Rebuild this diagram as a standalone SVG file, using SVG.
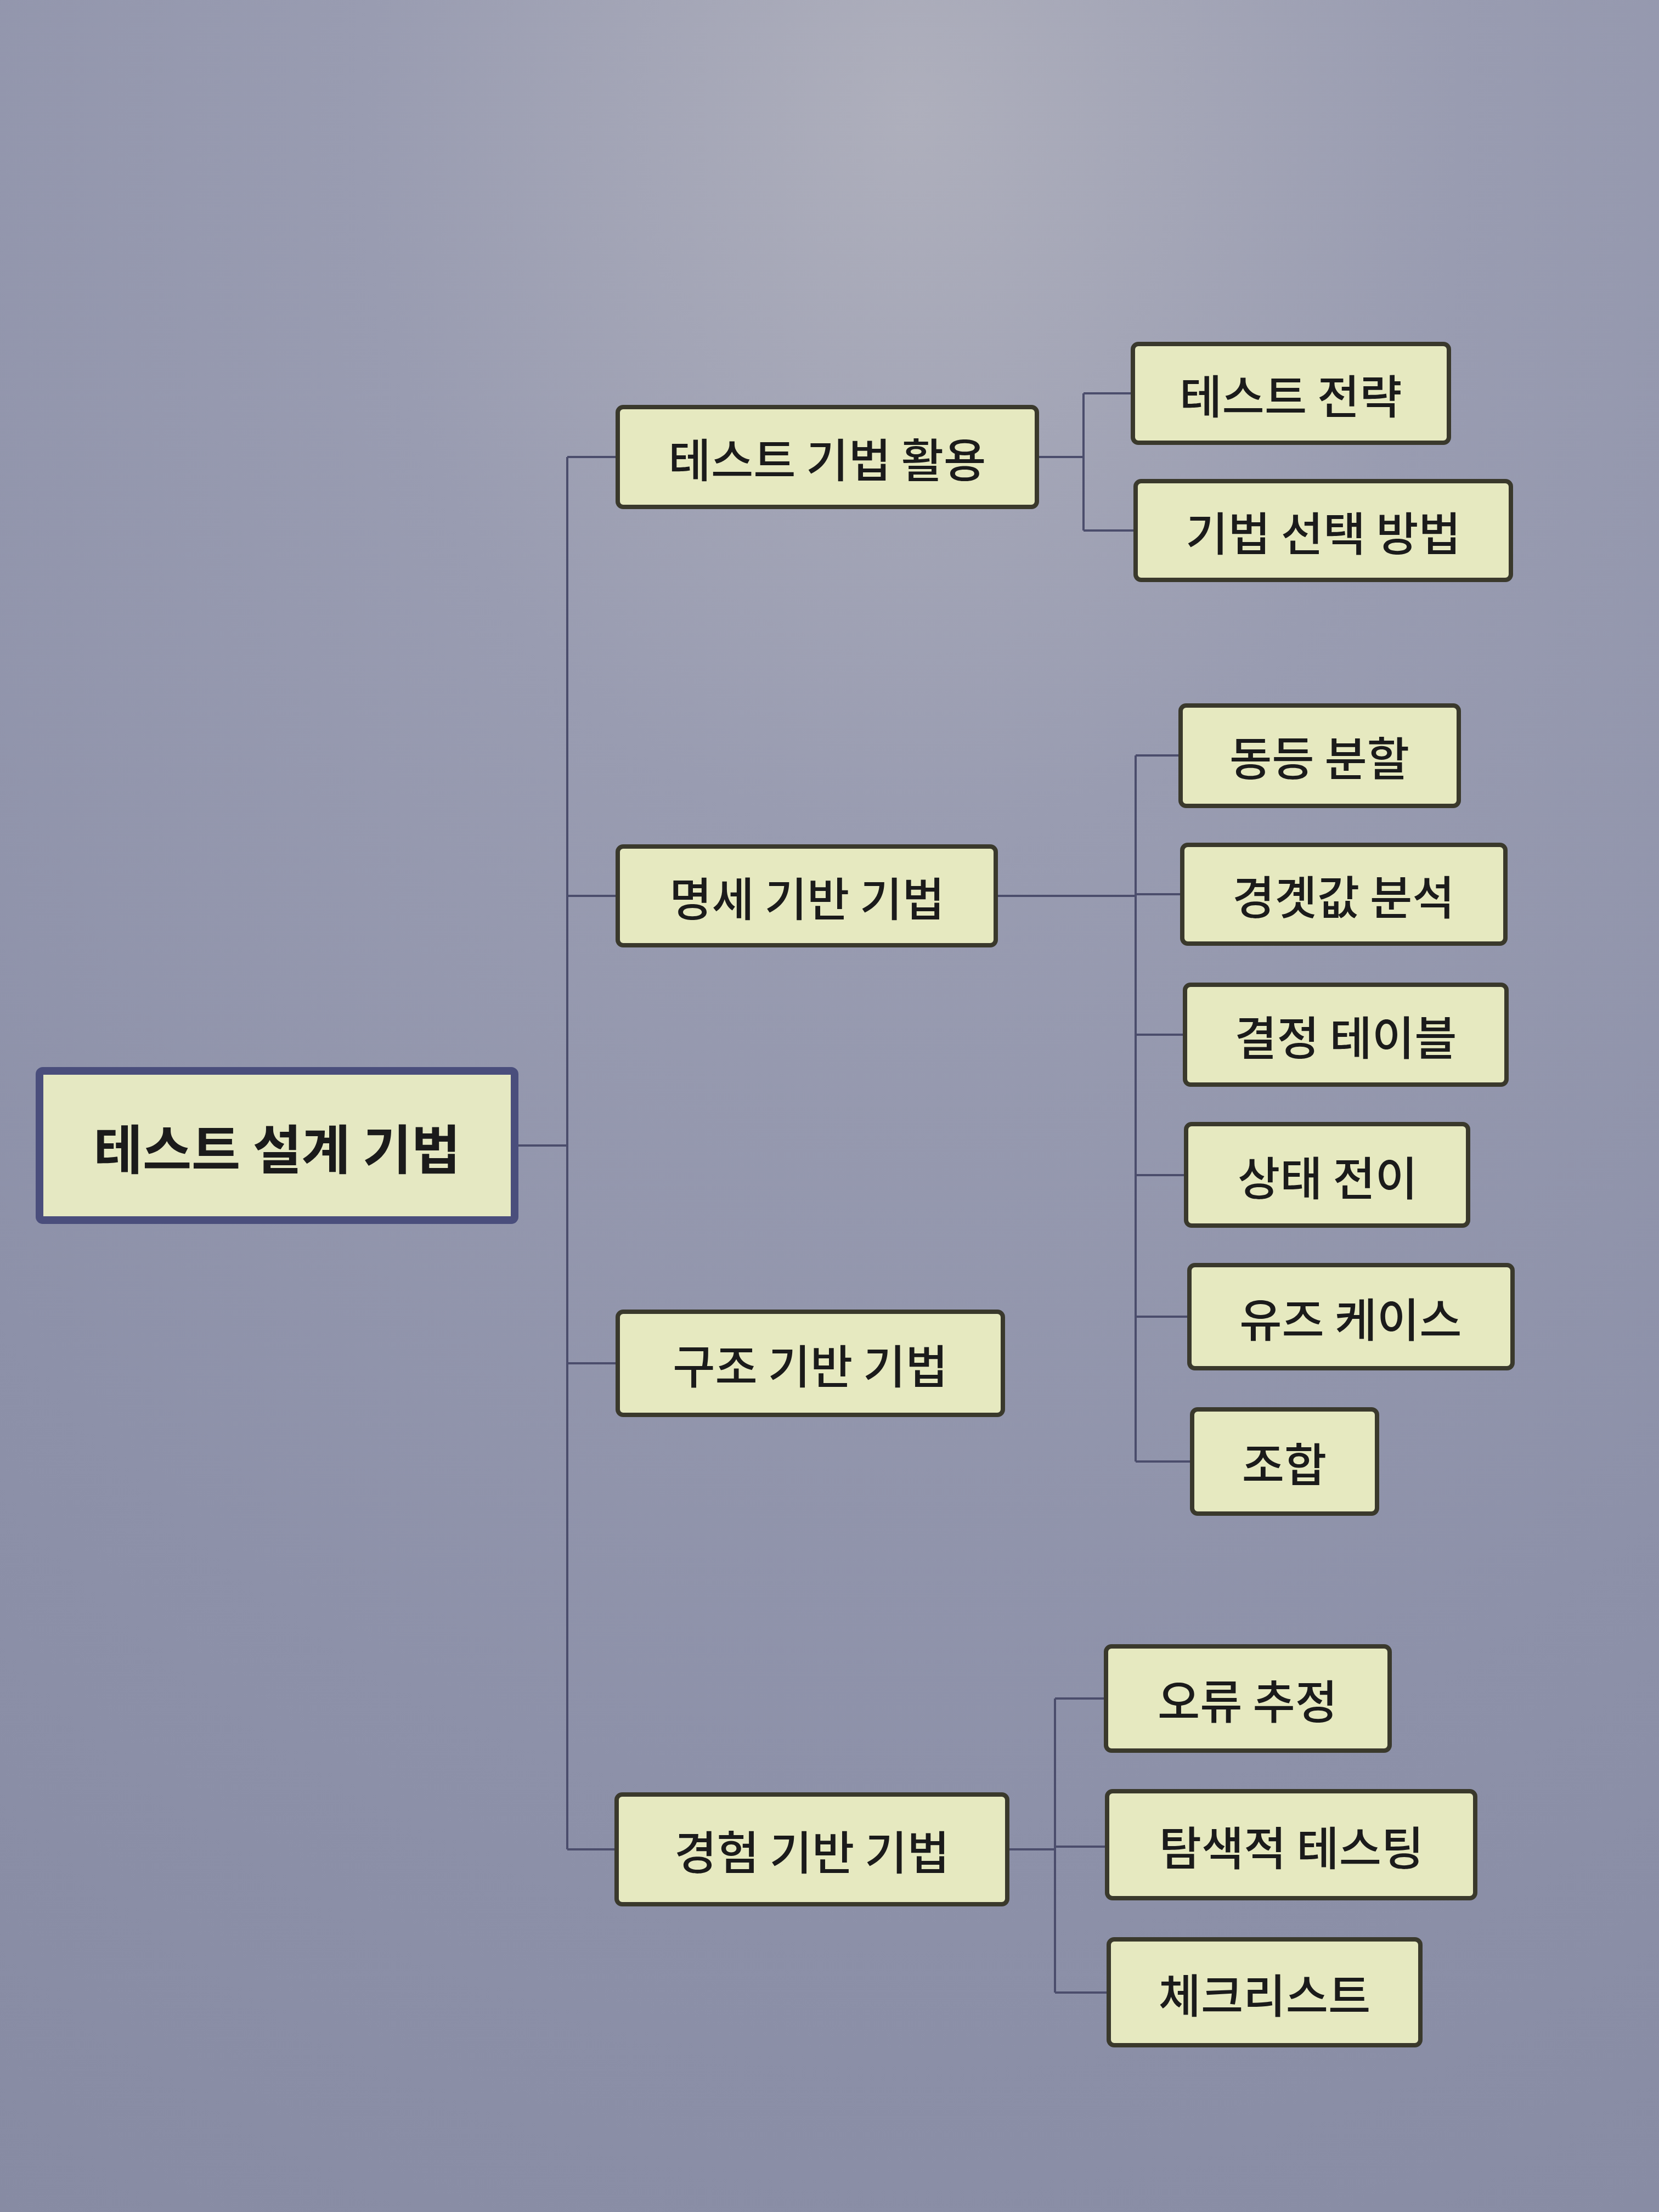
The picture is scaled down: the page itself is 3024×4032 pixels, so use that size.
<svg xmlns="http://www.w3.org/2000/svg" width="3024" height="4032" viewBox="0 0 3024 4032">
<defs>
<radialGradient id="bg" cx="0.55" cy="0.05" r="1.1">
<stop offset="0" stop-color="#aeafbc"/>
<stop offset="0.3" stop-color="#999cb1"/>
<stop offset="0.7" stop-color="#8d91a9"/>
<stop offset="1" stop-color="#878ba3"/>
</radialGradient>
<style>
.node rect{fill:#e6e9c0;stroke:#3a392c;stroke-width:8}
.root rect{fill:#e5e8c2;stroke:#4a4e7c;stroke-width:14}
text{font-family:"Noto Sans CJK KR","Noto Sans",sans-serif;fill:#1b1b1b;text-anchor:middle;dominant-baseline:central}
.t1{font-size:84px;font-weight:500}
.t2{font-size:84px;font-weight:500}
.t0{font-size:97px;font-weight:700}
#connectors path{fill:none;stroke:#4b4d6c;stroke-width:4}
</style>
</defs>
<rect width="3024" height="4032" fill="url(#bg)"/>
<g id="connectors">
<path d="M944,2088 H1034 M1034,833 V3371 M1034,833 H1126 M1034,1633 H1126 M1034,2485 H1126 M1034,3371 H1124"/>
<path d="M1890,833 H1975 M1975,717 V967 M1975,717 H2065 M1975,967 H2070"/>
<path d="M1815,1633 H2070 M2070,1377 V2664 M2070,1377 H2152 M2070,1630 H2155 M2070,1886 H2160 M2070,2142 H2162 M2070,2400 H2168 M2070,2664 H2173"/>
<path d="M1836,3371 H1923 M1923,3096 V3632 M1923,3096 H2016 M1923,3366 H2018 M1923,3632 H2021"/>
</g>
<g id="n-root" class="root"><rect x="72" y="1952" width="866" height="272" rx="6"/><text class="t0" x="505" y="2088">테스트 설계 기법</text></g>
<g id="n-usage" class="node"><rect x="1126" y="742" width="764" height="182" rx="10"/><text class="t1" x="1508" y="833">테스트 기법 활용</text></g>
<g id="n-spec" class="node"><rect x="1126" y="1543" width="689" height="180" rx="10"/><text class="t1" x="1471" y="1633">명세 기반 기법</text></g>
<g id="n-struct" class="node"><rect x="1126" y="2391" width="702" height="188" rx="10"/><text class="t1" x="1477" y="2485">구조 기반 기법</text></g>
<g id="n-exp" class="node"><rect x="1124" y="3271" width="712" height="200" rx="10"/><text class="t1" x="1480" y="3371">경험 기반 기법</text></g>
<g id="n-strategy" class="node"><rect x="2065" y="627" width="576" height="180" rx="10"/><text class="t2" x="2353" y="717">테스트 전략</text></g>
<g id="n-select" class="node"><rect x="2070" y="877" width="684" height="180" rx="10"/><text class="t2" x="2412" y="967">기법 선택 방법</text></g>
<g id="n-ep" class="node"><rect x="2152" y="1286" width="507" height="183" rx="10"/><text class="t2" x="2405" y="1377">동등 분할</text></g>
<g id="n-bva" class="node"><rect x="2155" y="1540" width="589" height="180" rx="10"/><text class="t2" x="2449" y="1630">경곗값 분석</text></g>
<g id="n-dt" class="node"><rect x="2160" y="1795" width="586" height="182" rx="10"/><text class="t2" x="2453" y="1886">결정 테이블</text></g>
<g id="n-st" class="node"><rect x="2162" y="2049" width="514" height="185" rx="10"/><text class="t2" x="2420" y="2142">상태 전이</text></g>
<g id="n-uc" class="node"><rect x="2168" y="2306" width="589" height="188" rx="10"/><text class="t2" x="2462" y="2400">유즈 케이스</text></g>
<g id="n-comb" class="node"><rect x="2173" y="2569" width="337" height="190" rx="10"/><text class="t2" x="2341" y="2664">조합</text></g>
<g id="n-eg" class="node"><rect x="2016" y="3001" width="517" height="190" rx="10"/><text class="t2" x="2274" y="3096">오류 추정</text></g>
<g id="n-et" class="node"><rect x="2018" y="3265" width="671" height="195" rx="10"/><text class="t2" x="2354" y="3363">탐색적 테스팅</text></g>
<g id="n-cl" class="node"><rect x="2021" y="3535" width="568" height="193" rx="10"/><text class="t2" x="2305" y="3632">체크리스트</text></g>
</svg>
